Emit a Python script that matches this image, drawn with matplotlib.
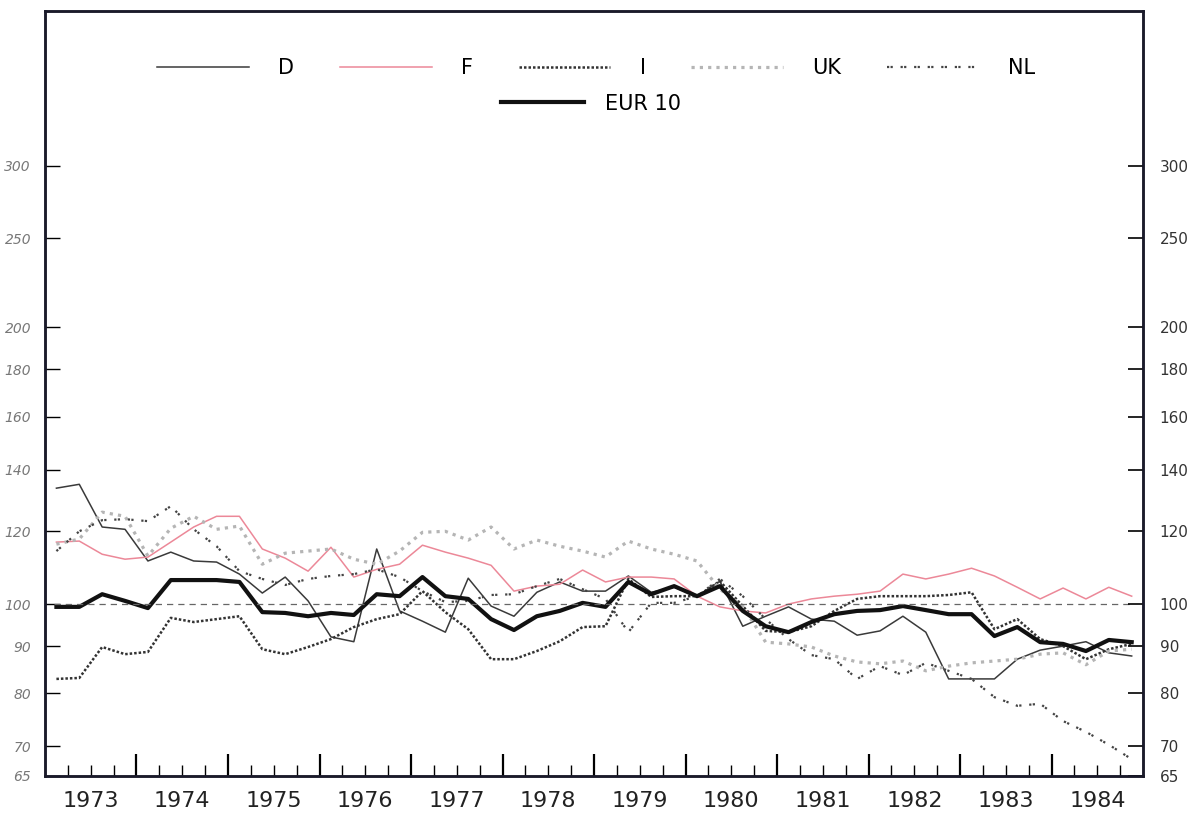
import matplotlib.pyplot as plt
import numpy as np

# quarterly index values, 1973 Q1 .. 1984 Q4
years = list(range(1973, 1985))

d = [133.7, 135.0, 121.3, 120.6, 111.4, 113.9, 111.4, 111.1, 107.8, 102.8, 107.0, 100.8,
     92.1, 91.0, 114.8, 98.3, 95.8, 93.2, 106.7, 99.5, 97.0, 103.0, 105.7, 103.3,
     103.3, 107.3, 103.0, 104.3, 102.0, 105.9, 94.6, 97.0, 99.3, 96.3, 95.8, 92.5,
     93.5, 97.0, 93.2, 82.9, 82.9, 82.9, 87.1, 89.1, 90.0, 91.0, 88.5, 87.8]

f = [116.8, 117.1, 113.3, 111.9, 112.5, 116.8, 121.3, 124.6, 124.6, 114.8, 112.2, 108.6,
     115.3, 107.0, 109.1, 110.5, 115.9, 113.9, 112.2, 110.2, 103.3, 104.6, 105.1, 108.9,
     105.7, 107.0, 107.0, 106.5, 102.0, 99.3, 98.3, 97.8, 100.0, 101.3, 102.0, 102.5,
     103.3, 107.8, 106.5, 107.8, 109.4, 107.3, 104.3, 101.3, 104.1, 101.3, 104.3, 102.0]

i_ = [82.9, 83.1, 89.8, 88.2, 88.7, 96.6, 95.6, 96.3, 97.0, 89.3, 88.2, 89.8,
      91.6, 94.4, 96.3, 97.5, 103.3, 98.0, 93.9, 87.1, 87.1, 88.9, 91.1, 94.4,
      94.6, 106.5, 101.8, 102.0, 102.0, 105.9, 99.5, 93.5, 93.2, 94.6, 98.3, 101.3,
      102.0, 102.0, 102.0, 102.3, 103.0, 93.9, 96.3, 91.6, 90.0, 87.1, 89.3, 90.5]

uk = [116.2, 117.7, 125.9, 124.6, 112.8, 120.9, 124.6, 120.6, 121.6, 110.5, 113.6, 114.2,
      114.8, 111.9, 110.5, 114.2, 119.7, 120.0, 117.4, 121.3, 114.8, 117.4, 115.6, 114.2,
      112.5, 117.1, 114.8, 113.3, 111.4, 103.8, 99.5, 90.9, 90.5, 89.8, 87.8, 86.5,
      86.1, 86.7, 84.6, 85.6, 86.3, 86.7, 87.1, 88.2, 88.5, 85.9, 88.9, 89.3]

nl = [114.2, 120.0, 123.4, 123.7, 123.1, 127.8, 120.6, 115.6, 108.6, 106.5, 104.9, 106.5,
      107.3, 107.8, 109.1, 107.0, 103.3, 100.5, 100.8, 102.3, 102.5, 104.6, 106.5, 103.8,
      101.3, 93.2, 100.3, 100.3, 102.0, 106.5, 102.0, 96.3, 91.6, 88.0, 87.1, 82.9,
      85.6, 83.7, 86.3, 84.6, 82.9, 79.2, 77.5, 77.9, 74.6, 72.6, 70.3, 67.8]

eur10 = [99.3, 99.3, 102.5, 100.8, 99.0, 106.2, 106.2, 106.2, 105.7, 98.0, 97.8, 97.0,
         97.8, 97.3, 102.5, 102.0, 107.0, 102.0, 101.3, 96.3, 93.7, 97.0, 98.3, 100.3,
         99.3, 105.7, 102.5, 104.6, 102.0, 104.6, 98.3, 94.6, 93.2, 95.6, 97.5, 98.3,
         98.5, 99.5, 98.5, 97.5, 97.5, 92.3, 94.4, 90.9, 90.5, 88.9, 91.4, 90.9]

yticks = [65, 70, 80, 90, 100, 120, 140, 160, 180, 200, 250, 300]

# mid-quarter positions
t = np.array([y + (q + 0.5) / 4 for y in years for q in range(4)])

fig = plt.figure(figsize=(11.93, 8.25), dpi=100)
ax = fig.add_axes([0.0377, 0.0594, 0.9205, 0.9273])

ax.plot(t, d, color='#3a3a3a', lw=1.1, label='D')
ax.plot(t, f, color='#ec8898', lw=1.1, label='F')
ax.plot(t, i_, color='#333333', lw=1.8, linestyle=(0, (1, 0.8)), label='I')
ax.plot(t, uk, color='#b5b5b5', lw=2.3, linestyle=(0, (1, 1.6)), label='UK')
ax.plot(t, nl, color='#444444', lw=1.6, linestyle=(0, (1, 0.6, 1, 3.5)), label='NL')
eur_line, = ax.plot(t, eur10, color='#111111', lw=3.0, label='EUR 10')
ax.axhline(100, xmin=0.008, xmax=0.99, color='#666666', lw=0.9, linestyle=(0, (5, 4)))

ax.set_yscale('log')
ax.set_ylim(65, 442)
ax.set_xlim(1973, 1985)
ax.set_yticks(yticks)
ax.set_yticklabels([str(v) for v in yticks], color='#777777', fontsize=10, style='italic')
ax.yaxis.set_minor_locator(plt.NullLocator())
ax.tick_params(axis='y', direction='in', length=11, width=1, pad=10)

# year boundaries and quarters
ax.set_xticks(years[1:])
ax.set_xticklabels([])
ax.set_xticks([y + q / 4 for y in years for q in (1, 2, 3)], minor=True)
ax.tick_params(axis='x', which='major', direction='in', length=16, width=1.6)
ax.tick_params(axis='x', which='minor', direction='in', length=8, width=1)

sec = ax.secondary_xaxis('bottom')
sec.set_xticks([y + 0.5 for y in years])
sec.set_xticklabels([str(y) for y in years], fontsize=16, color='#222222')
sec.tick_params(length=0, pad=11)
sec.spines['bottom'].set_visible(False)

ax2 = ax.twinx()
ax2.set_yscale('log')
ax2.set_ylim(65, 442)
ax2.set_yticks(yticks)
ax2.set_yticklabels([str(v) for v in yticks], color='#333333', fontsize=11)
ax2.yaxis.set_minor_locator(plt.NullLocator())
ax2.tick_params(axis='y', direction='in', length=11, width=1.2, pad=12)

for a in (ax, ax2):
    for s in a.spines.values():
        s.set_linewidth(1.8)
        s.set_color('#1a1a2a')

handles, labels = ax.get_legend_handles_labels()
leg1 = ax.legend(handles[:5], labels[:5], loc='center', bbox_to_anchor=(0.502, 0.925),
                 ncol=5, frameon=False, fontsize=15, handlelength=4.4,
                 handletextpad=1.4, columnspacing=2.2)
ax.add_artist(leg1)
ax.legend([eur_line], ['EUR 10'], loc='center', bbox_to_anchor=(0.497, 0.879),
          frameon=False, fontsize=15, handlelength=4.0, handletextpad=1.0)

fig.savefig('out.png', dpi=100)
